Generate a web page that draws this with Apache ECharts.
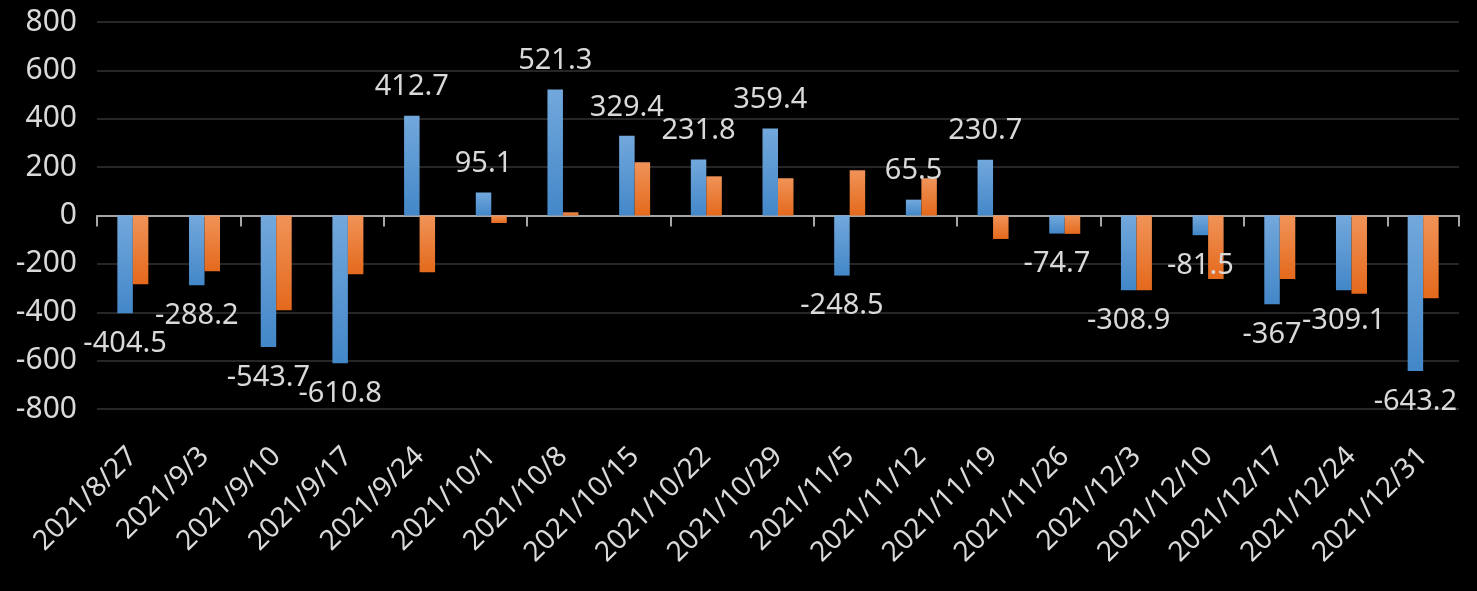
<!DOCTYPE html>
<html>
<head>
<meta charset="utf-8">
<script src="https://cdn.jsdelivr.net/npm/echarts@6/dist/echarts.min.js"></script>
<style>
html,body{margin:0;padding:0;background:#000;}
#chart{width:1477px;height:591px;}
</style>
</head>
<body>
<div id="chart"></div>
<script>
const categories = ['2021/8/27','2021/9/3','2021/9/10','2021/9/17','2021/9/24','2021/10/1','2021/10/8','2021/10/15','2021/10/22','2021/10/29','2021/11/5','2021/11/12','2021/11/19','2021/11/26','2021/12/3','2021/12/10','2021/12/17','2021/12/24','2021/12/31'];
const blueValues = [-404.5,-288.2,-543.7,-610.8,412.7,95.1,521.3,329.4,231.8,359.4,-248.5,65.5,230.7,-74.7,-308.9,-81.5,-367,-309.1,-643.2];
const orangeValues = [-284,-231,-392,-243,-235,-31,13,220,162,154,187,154,-97,-76,-309,-263,-263,-323,-342];
const yTicks = {min:-800, max:800, interval:200};

const FONT = 'Noto Sans';
const TXT = '#D9D9D9';

const blueGrad = new echarts.graphic.LinearGradient(0,0,0,1,[{offset:0,color:'#72A8DC'},{offset:1,color:'#4387C8'}]);
const orangeGrad = new echarts.graphic.LinearGradient(0,0,0,1,[{offset:0,color:'#F09358'},{offset:1,color:'#E4691C'}]);

const chart = echarts.init(document.getElementById('chart'));
chart.setOption({
  backgroundColor:'#000',
  animation:false,
  grid:{left:97,right:18,top:22,bottom:182,containLabel:false},
  xAxis:[{
    type:'category', data:categories,
    axisLine:{onZero:true, lineStyle:{color:'#A6A6A6',width:2}},
    axisTick:{show:true, alignWithLabel:false, length:11, lineStyle:{color:'#A6A6A6',width:2}},
    axisLabel:{show:false},
    splitLine:{show:false}
  },{
    type:'category', data:categories, position:'bottom',
    axisLine:{show:false, onZero:false},
    axisTick:{show:false},
    axisLabel:{show:true, rotate:45, interval:0, margin:43, color:TXT, fontFamily:FONT, fontSize:28},
    splitLine:{show:false}
  }],
  yAxis:{
    type:'value', min:yTicks.min, max:yTicks.max, interval:yTicks.interval,
    axisLine:{show:false}, axisTick:{show:false},
    axisLabel:{color:TXT, fontFamily:FONT, fontSize:30, margin:20},
    splitLine:{lineStyle:{color:'#262626',width:2}}
  },
  series:[{
    type:'bar', xAxisIndex:0, barWidth:15.5, barGap:'0%',
    itemStyle:{color:blueGrad},
    data: blueValues.map(v => ({value:v, label:{position: v>=0 ? 'top':'bottom', distance: v>=0 ? 14 : 16}})),
    label:{show:true, color:TXT, fontFamily:FONT, fontSize:29}
  },{
    type:'bar', xAxisIndex:0, barWidth:15.5, barGap:'0%',
    itemStyle:{color:orangeGrad},
    data: orangeValues
  }]
});
</script>
</body>
</html>
